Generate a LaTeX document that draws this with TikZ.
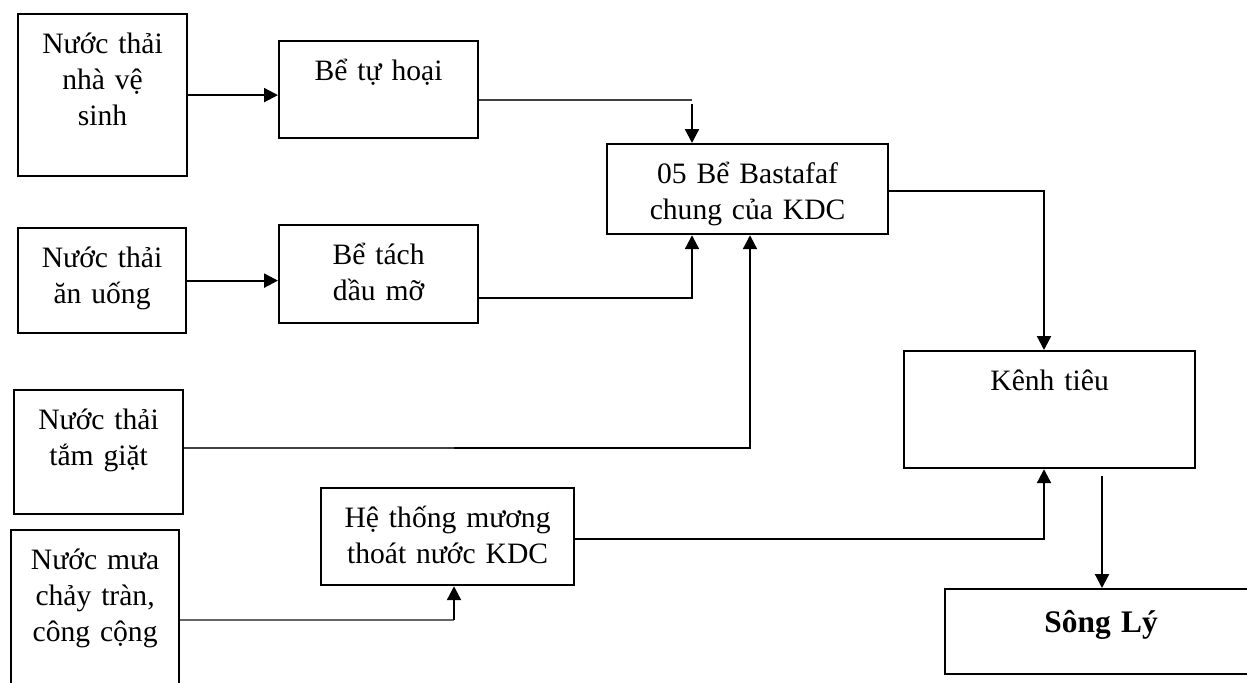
\documentclass[tikz,border=0pt]{standalone}
\usepackage{fontspec}
\setmainfont{Liberation Serif}
\usepackage{tikz}
\usetikzlibrary{arrows.meta}

\begin{document}
\begin{tikzpicture}[x=0.5pt,y=-0.5pt,>={Triangle[length=7pt,width=7pt]},
        hop/.style={draw,line width=1.1pt,anchor=north west,inner xsep=2pt,inner ysep=0pt,
                align=center,text height=19.5pt,font=\fontsize{14.8pt}{18.2pt}\selectfont},
        link/.style={line width=1.1pt},
        thinlink/.style={line width=0.6pt,black!75},
        greylink/.style={line width=0.8pt,black!60}]
        % page size
        \useasboundingbox (0,0) rectangle (1247,682);

        % the sources of waste water
        \node[hop,text width=80.5pt,text depth=61.5pt] (nhavs) at (17,13) {Nước thải\\nhà vệ\\sinh};
        \node[hop,text width=80pt,text depth=33pt] (anuong) at (17,227) {Nước thải\\ăn uống};
        \node[hop,text width=80.5pt,text depth=42.5pt] (tamgiat) at (13,389) {Nước thải\\tắm giặt};
        \node[hop,text width=80pt,text depth=65.5pt] (nuocmua) at (10,529) {Nước mưa\\chảy tràn,\\công cộng};

        % the treatment steps
        \node[hop,text width=95.5pt,text depth=29pt] (tuhoai) at (278,40) {Bể tự hoại};
        \node[hop,text width=95.5pt,text depth=29.5pt] (tachdau) at (278,224) {Bể tách\\dầu mỡ};
        \node[hop,text width=122.5pt,text depth=29pt] (muong) at (320,487) {Hệ thống mương\\thoát nước KDC};
        \node[hop,text width=136.5pt,text depth=25.5pt] (bastafaf) at (606,143) {05 Bể Bastafaf\\chung của KDC};
        \node[hop,text width=141.5pt,text depth=39pt] (kenhtieu) at (903,350) {Kênh tiêu};
        \node[hop,text width=152pt,text depth=21pt,text height=21.5pt,
                font=\fontsize{15.7pt}{18.2pt}\selectfont] (songly) at (944,588) {\textbf{Sông Lý}};

        % bend points of the connectors
        \coordinate (k1) at (692,100);
        \coordinate (k2) at (692,298);
        \coordinate (k3) at (454,448);
        \coordinate (k4) at (750,448);
        \coordinate (k5) at (454,620);
        \coordinate (k6) at (1044,539);
        \coordinate (k7) at (1044,191);
        \coordinate (k8) at (1102,472);

        % straight arrows
        \draw[->,link] (nhavs.east) -- (nhavs.east -| tuhoai.west);
        \draw[->,link] (anuong.east) -- (anuong.east -| tachdau.west);

        % into the Bastafaf tanks
        \draw[thinlink] (tuhoai.east |- k1) -- (k1);
        \draw[->,link,shorten <=2pt] (k1) -- (k1 |- bastafaf.north);
        \draw[->,link] (tachdau.east |- k2) -| (bastafaf.south -| k2);
        \draw[thinlink] (tamgiat.east |- k3) -- (k3);
        \draw[->,link] (k3) -- (k4) -- (k4 |- bastafaf.south);

        % the drainage ditch
        \draw[greylink] (nuocmua.east |- k5) -- (k5);
        \draw[->,link] (k5) -- (k5 |- muong.south);

        % into the canal and the river
        \draw[->,link] (muong.east |- k6) -| (kenhtieu.south -| k6);
        \draw[->,link] (bastafaf.east |- k7) -| (kenhtieu.north -| k7);
        \draw[->,link,shorten <=2pt] (k8) -- (k8 |- songly.north);
\end{tikzpicture}
\end{document}
